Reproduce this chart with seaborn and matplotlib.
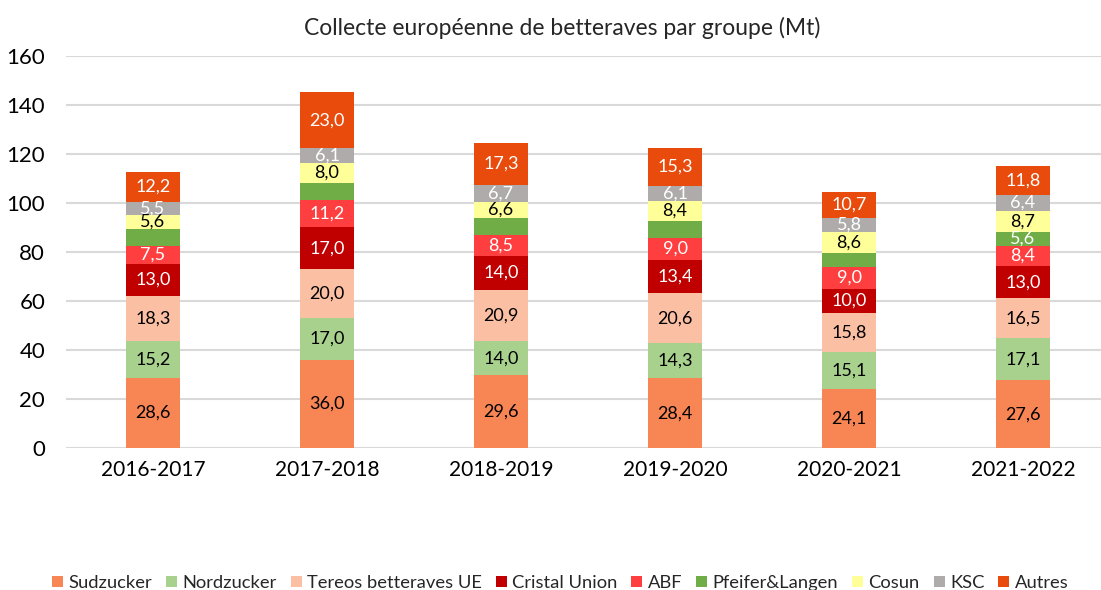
import numpy as np
import pandas as pd
import matplotlib
matplotlib.use("Agg")
import matplotlib.pyplot as plt
import seaborn as sns
from matplotlib.patches import Patch

sns.set_theme(style="white")
plt.rcParams["font.family"] = ["Lato", "DejaVu Sans"]

seasons = ["2016-2017", "2017-2018", "2018-2019", "2019-2020", "2020-2021", "2021-2022"]
groups = ["Sudzucker", "Nordzucker", "Tereos betteraves UE", "Cristal Union", "ABF",
          "Pfeifer&Langen", "Cosun", "KSC", "Autres"]

sudzucker = [28.6, 36.0, 29.6, 28.4, 24.1, 27.6]
nordzucker = [15.2, 17.0, 14.0, 14.3, 15.1, 17.1]
tereos = [18.3, 20.0, 20.9, 20.6, 15.8, 16.5]
cristal = [13.0, 17.0, 14.0, 13.4, 10.0, 13.0]
abf = [7.5, 11.2, 8.5, 9.0, 9.0, 8.4]
pfeifer = [6.9, 7.0, 7.0, 6.8, 5.5, 5.6]  # only the last one is labelled
cosun = [5.6, 8.0, 6.6, 8.4, 8.6, 8.7]
ksc = [5.5, 6.1, 6.7, 6.1, 5.8, 6.4]
autres = [12.2, 23.0, 17.3, 15.3, 10.7, 11.8]

values = [sudzucker, nordzucker, tereos, cristal, abf, pfeifer, cosun, ksc, autres]
colors = ["#F88655", "#A9D18E", "#FBBFA4", "#C00000", "#FF3F3F",
          "#70AD47", "#FFFF99", "#AFABAB", "#E94B0C"]
text_colors = ["black", "black", "black", "white", "white",
               "white", "black", "white", "white"]
# which labels are shown (pfeifer only on the last season)
show = [[True] * 6] * 5 + [[False] * 5 + [True]] + [[True] * 6] * 3

fig = plt.figure(figsize=(11.01, 5.9), dpi=100)
ax = fig.add_axes([66 / 1101, 1 - 448 / 590, 1 - 66 / 1101, (448 - 56) / 590])

tops = np.cumsum(np.array(values), axis=0)

# overlay: draw cumulative totals from the top series down
for i in range(len(groups) - 1, -1, -1):
    df = pd.DataFrame({"season": seasons, "value": tops[i]})
    sns.barplot(data=df, x="season", y="value", color=colors[i], width=0.31,
                saturation=1, ax=ax, zorder=2, edgecolor="none")

for i in range(len(groups)):
    for j in range(len(seasons)):
        if not show[i][j]:
            continue
        v = values[i][j]
        ax.text(j, tops[i][j] - v / 2, f"{v:.1f}".replace(".", ","),
                ha="center", va="center", fontsize=13, color=text_colors[i], zorder=5)

ax.set_ylim(0, 160)
ax.set_yticks(range(0, 161, 20))
ax.set_xlim(-0.5, (1101 - 66) / 174 - 0.5)
ax.set_xlabel("")
ax.set_ylabel("")
ax.yaxis.grid(True, color="#D9D9D9", linewidth=1.5, zorder=0)
ax.set_axisbelow(True)
for s in ax.spines.values():
    s.set_visible(False)
ax.tick_params(axis="both", length=0, colors="black")
ax.tick_params(axis="x", labelsize=15, pad=9)
ax.tick_params(axis="y", labelsize=16, pad=15)

fig.text(562 / 1101, 1 - 28 / 590, "Collecte européenne de betteraves par groupe (Mt)",
         ha="center", va="center", fontsize=16.5)

handles = [Patch(facecolor=c, edgecolor="none", label=g) for g, c in zip(groups, colors)]
fig.legend(handles=handles, loc="center", bbox_to_anchor=(0.509, 1 - 583 / 590), ncol=9,
           frameon=False, fontsize=13.2, handlelength=0.6, handleheight=0.6,
           handletextpad=0.3, columnspacing=0.75)

fig.savefig("out.png", dpi=100)
